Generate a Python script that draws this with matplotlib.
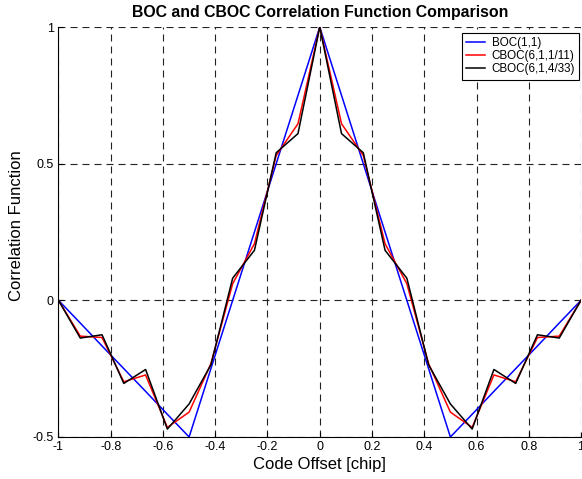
import numpy as np
import matplotlib
matplotlib.use("Agg")
import matplotlib.pyplot as plt

plt.rcParams["font.family"] = ["Liberation Sans", "DejaVu Sans"]

# code offset grid, 1/12 chip steps
tau = np.arange(-12, 13) / 12.0

boc11 = [0.0, -0.083, -0.167, -0.25, -0.333, -0.417, -0.5, -0.25, 0.0, 0.25, 0.5, 0.75,
         1.0,
         0.75, 0.5, 0.25, 0.0, -0.25, -0.5, -0.417, -0.333, -0.25, -0.167, -0.083, 0.0]
cboc_1_11 = [0.0, -0.131, -0.136, -0.298, -0.273, -0.465, -0.409, -0.232, 0.061, 0.207, 0.530, 0.646,
             1.0,
             0.646, 0.530, 0.207, 0.061, -0.232, -0.409, -0.465, -0.273, -0.298, -0.136, -0.131, 0.0]
cboc_4_33 = [0.0, -0.138, -0.126, -0.304, -0.253, -0.471, -0.379, -0.236, 0.081, 0.183, 0.540, 0.610,
             1.0,
             0.610, 0.540, 0.183, 0.081, -0.236, -0.379, -0.471, -0.253, -0.304, -0.126, -0.138, 0.0]

labels = ["BOC(1,1)", "CBOC(6,1,1/11)", "CBOC(6,1,4/33)"]
colors = ["#0000ff", "#ff0000", "#000000"]
xtick_labels = ["-1", "-0.8", "-0.6", "-0.4", "-0.2", "0", "0.2", "0.4", "0.6", "0.8", "1"]
ytick_labels = ["-0.5", "0", "0.5", "1"]

fig = plt.figure(figsize=(5.82, 4.79), dpi=100)
ax = fig.add_axes([0.1005, 0.0877, 0.8978, 0.8559])

for y, lab, c in zip([boc11, cboc_1_11, cboc_4_33], labels, colors):
    ax.plot(tau, y, color=c, lw=1.1, label=lab)

ax.set_xlim(-1, 1)
ax.set_ylim(-0.5, 1)
ax.set_xticks(np.linspace(-1, 1, 11))
ax.set_xticklabels(xtick_labels)
ax.set_yticks([-0.5, 0, 0.5, 1])
ax.set_yticklabels(ytick_labels)
ax.grid(True, color="#222222", linestyle=(0, (6.3, 4.5)), lw=0.8)
ax.spines["top"].set_visible(False)
ax.spines["right"].set_visible(False)
ax.tick_params(direction="in", length=3.6, labelsize=9)
ax.tick_params(axis="x", pad=3)
ax.tick_params(axis="y", pad=3.5)

ax.set_xlabel("Code Offset [chip]", fontsize=12)
ax.xaxis.set_label_coords(0.5, -0.0476)
ax.set_ylabel("Correlation Function", fontsize=12)
ax.yaxis.set_label_coords(-0.066, 0.515)
ax.set_title("BOC and CBOC Correlation Function Comparison", fontsize=11.4,
             fontweight="bold", pad=7)

leg = ax.legend(loc="upper right", bbox_to_anchor=(0.9962, 0.9854), borderaxespad=0,
                fontsize=8.4, fancybox=False, edgecolor="black", framealpha=1,
                handlelength=1.6, labelspacing=0.1, borderpad=0.35, handletextpad=0.6)
leg.get_frame().set_linewidth(0.8)

fig.savefig("out.png", dpi=100)
